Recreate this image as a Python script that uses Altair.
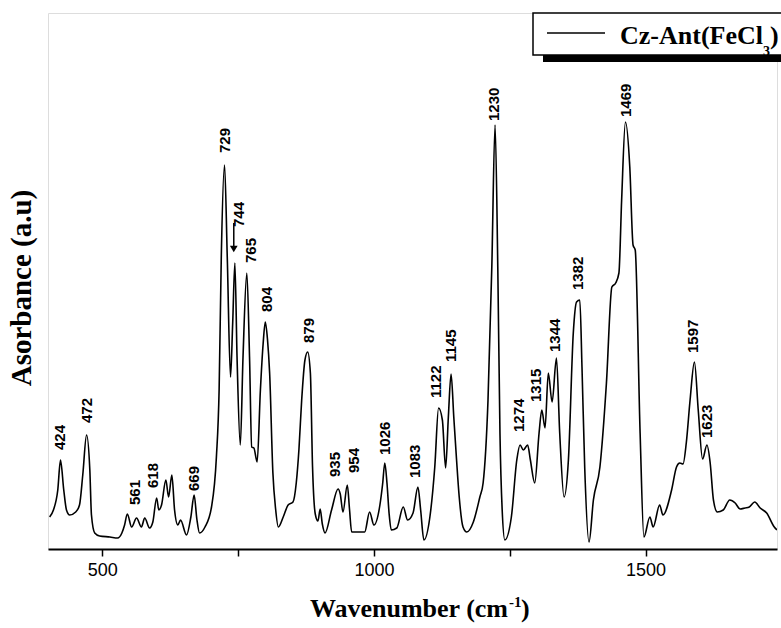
import altair as alt
import pandas as pd

# ---- spectrum (wavenumber in cm-1, absorbance in arbitrary units) ----
wavenumber = [403, 410, 418, 423, 429, 434, 440, 451, 458, 464, 471, 477, 480, 486, 495, 514, 528,
              536, 541, 546, 554, 563, 572, 578, 587, 593, 600, 604, 609, 617, 622, 628, 633, 639,
              644, 655, 663, 669, 674, 679, 689, 701, 710, 715, 719, 725, 730, 736, 740, 744, 748,
              754, 759, 766, 771, 775, 779, 785, 791, 796, 800, 804, 808, 814, 819, 824, 833, 842,
              851, 857, 862, 867, 873, 878, 883, 887, 892, 897, 901, 905, 910, 922, 934, 938, 943,
              951, 955, 959, 971, 983, 992, 1000, 1011, 1016, 1020, 1024, 1028, 1032, 1042, 1054,
              1062, 1072, 1081, 1086, 1092, 1103, 1112, 1119, 1126, 1132, 1137, 1142, 1147, 1152,
              1157, 1164, 1171, 1183, 1195, 1201, 1210, 1217, 1223, 1228, 1232, 1236, 1241, 1253,
              1263, 1269, 1275, 1283, 1288, 1296, 1304, 1309, 1315, 1321, 1328, 1336, 1342, 1350,
              1358, 1367, 1373, 1379, 1383, 1388, 1396, 1404, 1416, 1428, 1438, 1445, 1451, 1456,
              1463, 1471, 1477, 1481, 1490, 1497, 1508, 1514, 1526, 1532, 1548, 1557, 1563, 1569,
              1575, 1582, 1590, 1597, 1605, 1613, 1619, 1625, 1632, 1643, 1655, 1665, 1674, 1683,
              1691, 1701, 1711, 1723, 1737, 1742]
absorbance = [32, 39, 59, 89, 59, 39, 34, 37, 44, 74, 114, 79, 34, 16, 13, 12, 11,
              16, 24, 35, 22, 31, 22, 31, 21, 27, 51, 39, 44, 69, 52, 74, 39, 24,
              29, 14, 32, 54, 30, 16, 22, 42, 92, 159, 292, 384, 292, 172, 226, 286, 192,
              104, 192, 276, 192, 102, 101, 87, 159, 205, 227, 210, 176, 76, 40, 22, 32, 44,
              47, 66, 100, 149, 189, 197, 176, 82, 35, 28, 40, 25, 16, 39, 60, 55, 37,
              64, 40, 17, 17, 17, 37, 24, 44, 65, 86, 66, 35, 19, 21, 42,
              29, 36, 62, 39, 9, 32, 82, 141, 129, 81, 132, 175, 132, 90,
              52, 22, 17, 27, 52, 66, 149, 282, 424, 282, 116, 40, 9, 32,
              89, 104, 99, 104, 89, 66, 116, 139, 121, 176, 147, 191, 116, 52,
              89, 216, 247, 249, 182, 82, 7, 49, 82, 166, 262, 266, 276, 349,
              427, 382, 304, 299, 116, 12, 32, 22, 44, 34, 59, 82, 86, 85,
              106, 149, 187, 139, 90, 104, 86, 49, 37, 39, 49, 46, 40, 41,
              42, 47, 41, 36, 22, 19]

# ---- peak annotations ----
peak_labels = ["424", "472", "561", "618", "669", "729", "744", "765", "804", "879", "935", "954",
               "1026", "1083", "1122", "1145", "1230", "1274", "1315", "1344", "1382", "1469",
               "1597", "1623"]
peak_label_x = [423, 471, 560, 593, 668, 725, 751, 773, 803, 880, 928, 963,
                1020, 1075, 1114, 1141, 1221, 1267, 1298, 1333, 1376, 1464,
                1588, 1614]
peak_label_y = [99, 126, 44, 61, 58, 396, 322, 286, 237, 206, 72, 76,
                94, 71, 151, 187, 428, 117, 147, 197, 259, 432,
                196, 111]

arrow_x = [742]
arrow_top = [326]
arrow_tip = [300]

x_ticks = [500, 750, 1000, 1250, 1500]
x_domain = [400, 1742]
y_domain = [0, 536]

legend_name = ["Cz-Ant(FeCl", "3", ")"]
x_title = ["Wavenumber (cm", "-1", ")"]
y_title = "Asorbance (a.u)"

W, H = 729, 536

spec = pd.DataFrame({"wn": wavenumber, "a": absorbance})
labs = pd.DataFrame({"t": peak_labels, "x": peak_label_x, "y": peak_label_y})
arr = pd.DataFrame({"x": arrow_x, "y": arrow_top, "y2": arrow_tip})
one = pd.DataFrame({"k": [0]})

xs = alt.Scale(domain=x_domain, nice=False, zero=False)
ys = alt.Scale(domain=y_domain, nice=False, zero=False)

line = alt.Chart(spec).mark_line(color="black", strokeWidth=1.6, clip=True,
                                 interpolate="monotone").encode(
    x=alt.X("wn:Q", scale=xs, axis=alt.Axis(
        values=x_ticks, format="d",
        labelExpr="datum.value % 500 == 0 ? datum.label : ''",
        title=None, grid=False, domainColor="black", domainWidth=2,
        tickColor="black", tickWidth=1.5, tickSize=7,
        labelFont="Liberation Sans", labelFontSize=18, labelColor="black",
        labelPadding=5)),
    y=alt.Y("a:Q", scale=ys, axis=None),
)

peaks = alt.Chart(labs).mark_text(
    angle=270, align="left", baseline="middle",
    font="Liberation Sans", fontWeight="bold", fontSize=15, color="black"
).encode(x=alt.X("x:Q", scale=xs), y=alt.Y("y:Q", scale=ys), text="t:N")

arrow_line = alt.Chart(arr).mark_rule(color="black", strokeWidth=1.5).encode(
    x=alt.X("x:Q", scale=xs), y=alt.Y("y:Q", scale=ys), y2="y2:Q")
arrow_head = alt.Chart(arr).mark_point(
    shape="triangle-down", filled=True, color="black", size=60, opacity=1
).encode(x=alt.X("x:Q", scale=xs), y=alt.Y("y2:Q", scale=ys))

serif = "Liberation Serif"

# ---- legend box (Origin style with shadow) ----
legend_shadow = alt.Chart(one).mark_rect(color="black").encode(
    x=alt.value(495), x2=alt.value(745), y=alt.value(42), y2=alt.value(49))
legend_box = alt.Chart(one).mark_rect(fill="white", stroke="black", strokeWidth=1.5).encode(
    x=alt.value(485), x2=alt.value(745), y=alt.value(0), y2=alt.value(42))
legend_line = alt.Chart(one).mark_rule(color="black", strokeWidth=1.5).encode(
    x=alt.value(499), x2=alt.value(557), y=alt.value(20))
legend_t1 = alt.Chart(one).mark_text(
    text=legend_name[0], align="right", baseline="alphabetic", font=serif,
    fontWeight="bold", fontSize=26, color="black").encode(x=alt.value(715), y=alt.value(31))
legend_t2 = alt.Chart(one).mark_text(
    text=legend_name[1], align="left", baseline="alphabetic", font=serif,
    fontWeight="bold", fontSize=14, color="black").encode(x=alt.value(715), y=alt.value(43))
legend_t3 = alt.Chart(one).mark_text(
    text=legend_name[2], align="left", baseline="alphabetic", font=serif,
    fontWeight="bold", fontSize=26, color="black").encode(x=alt.value(722), y=alt.value(31))

# ---- axis titles ----
xt1 = alt.Chart(one).mark_text(
    text=x_title[0], align="right", baseline="alphabetic", font=serif,
    fontWeight="bold", fontSize=26, color="black").encode(x=alt.value(460), y=alt.value(604))
xt2 = alt.Chart(one).mark_text(
    text=x_title[1], align="left", baseline="alphabetic", font=serif,
    fontWeight="bold", fontSize=15, color="black").encode(x=alt.value(461), y=alt.value(594))
xt3 = alt.Chart(one).mark_text(
    text=x_title[2], align="left", baseline="alphabetic", font=serif,
    fontWeight="bold", fontSize=26, color="black").encode(x=alt.value(473), y=alt.value(604))
yt = alt.Chart(one).mark_text(
    text=y_title, angle=270, align="center", baseline="middle", font=serif,
    fontWeight="bold", fontSize=29, color="black").encode(x=alt.value(-26), y=alt.value(275))

chart = alt.layer(
    line, peaks, arrow_line, arrow_head,
    legend_shadow, legend_box, legend_line, legend_t1, legend_t2, legend_t3,
    xt1, xt2, xt3, yt
).properties(
    width=W, height=H,
    autosize=alt.AutoSizeParams(type="none"),
    padding={"left": 48, "top": 13, "right": 4, "bottom": 79},
).configure_view(stroke="black", strokeWidth=2).configure(background="white")

chart.save("out.html", embed_options={"renderer": "svg", "actions": False})
